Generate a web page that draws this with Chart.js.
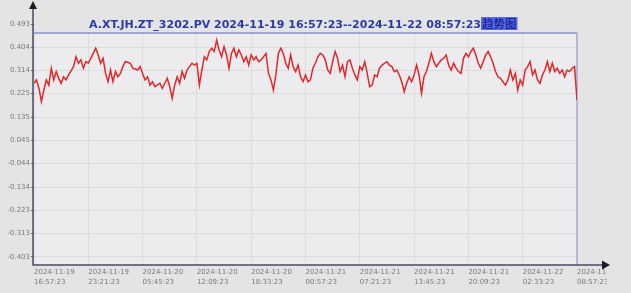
<!DOCTYPE html>
<html>
<head>
<meta charset="utf-8">
<script src="https://cdn.jsdelivr.net/npm/chart.js@4.4.1/dist/chart.umd.min.js"></script>
<style>
  html, body { margin: 0; padding: 0; background: #e4e4e4; }
  #wrap { width: 631px; height: 293px; }
</style>
</head>
<body>
<div id="wrap"><canvas id="trend" width="631" height="293"></canvas></div>
<script>
// ==============================
// Data
// ==============================
const titleText = 'A.XT.JH.ZT_3202.PV 2024-11-19 16:57:23--2024-11-22 08:57:23';
const titleSuffix = '趋势图';

const xTickLabels = [
    ['2024-11-19', '16:57:23'],
    ['2024-11-19', '23:21:23'],
    ['2024-11-20', '05:45:23'],
    ['2024-11-20', '12:09:23'],
    ['2024-11-20', '18:33:23'],
    ['2024-11-21', '00:57:23'],
    ['2024-11-21', '07:21:23'],
    ['2024-11-21', '13:45:23'],
    ['2024-11-21', '20:09:23'],
    ['2024-11-22', '02:33:23'],
    ['2024-11-22', '08:57:23']
];

const yTickValues = [0.493, 0.404, 0.314, 0.225, 0.135, 0.045, -0.044, -0.134, -0.223, -0.313, -0.403];
const yAxisMin = -0.434;

// PV samples, evenly spaced from the first to the last time label
const pvValues = [
    0.265,0.278,0.246,0.194,0.239,0.278,0.258,0.323,0.278,0.310,
    0.284,0.265,0.290,0.278,0.297,0.313,0.329,0.367,0.342,0.355,
    0.323,0.348,0.342,0.361,0.380,0.400,0.374,0.342,0.361,0.303,
    0.271,0.316,0.271,0.310,0.290,0.303,0.329,0.348,0.346,0.342,
    0.323,0.320,0.316,0.329,0.303,0.278,0.290,0.258,0.271,0.252,
    0.258,0.265,0.246,0.265,0.284,0.252,
    0.207,0.258,0.290,0.265,0.310,0.284,0.316,0.329,0.342,0.335,
    0.342,0.258,0.316,0.367,0.355,0.387,0.400,0.387,0.431,0.393,
    0.367,0.406,0.374,0.323,0.380,0.400,0.367,0.393,0.374,0.348,
    0.367,0.335,0.374,0.355,0.367,0.348,0.355,0.367,0.380,0.303,
    0.278,0.239,0.297,0.380,0.400,0.380,0.342,0.323,0.374,0.329,
    0.310,0.335,0.290,0.271,0.297,
    0.271,0.278,0.323,0.342,0.367,0.380,0.374,0.355,0.316,0.303,
    0.348,0.387,0.361,0.310,0.335,0.290,0.348,0.355,0.323,0.297,
    0.278,0.329,0.316,0.348,0.303,0.252,0.258,0.297,0.290,0.323,
    0.335,0.342,0.348,0.335,0.329,0.310,0.316,0.297,0.271,0.233,
    0.265,0.290,0.271,0.297,0.335,0.297,0.227,0.290,0.310,0.342,
    0.380,0.348,0.329,0.342,0.355,
    0.361,0.374,0.335,0.316,0.342,0.323,0.310,0.303,0.361,0.380,
    0.367,0.387,0.400,0.374,0.342,0.323,0.348,0.374,0.387,0.367,
    0.342,0.310,0.290,0.284,0.271,0.258,0.278,0.316,0.278,0.303,
    0.239,0.278,0.258,0.316,0.329,0.348,0.297,0.316,0.278,0.265,
    0.297,0.316,0.348,0.310,0.342,0.310,0.323,0.303,0.316,0.290,
    0.316,0.310,0.323,0.329,0.201
];

// ==============================
// Frame / axes / title plugin
// ==============================
const BG = '#e4e4e4';
const PLOT_BG = '#ececee';

const framePlugin = {
    id: 'frame',
    beforeDraw(chart) {
        const { ctx, chartArea: a } = chart;
        ctx.save();
        ctx.fillStyle = BG;
        ctx.fillRect(0, 0, chart.width, chart.height);
        ctx.fillStyle = PLOT_BG;
        ctx.fillRect(a.left, a.top + 9, a.right - a.left, a.bottom - a.top - 9);
        ctx.restore();
    },
    beforeDatasetsDraw(chart) {
        const { ctx, chartArea: a } = chart;
        const top = a.top + 9;
        ctx.save();
        // grid stops at the frame top
        ctx.fillStyle = BG;
        ctx.fillRect(a.left + 1, a.top - 2, a.right - a.left + 2, top - a.top + 1.5);
        ctx.strokeStyle = '#8a90cc';
        ctx.lineWidth = 1.5;
        ctx.beginPath();
        ctx.moveTo(a.left, top);
        ctx.lineTo(a.right, top);
        ctx.stroke();
        ctx.strokeStyle = '#a4a8d6';
        ctx.lineWidth = 1.5;
        ctx.beginPath();
        ctx.moveTo(a.right, top);
        ctx.lineTo(a.right, a.bottom);
        ctx.stroke();
        ctx.restore();
    },
    afterDraw(chart) {
        const { ctx, chartArea: a } = chart;
        ctx.save();
        // labels run off the panel edge
        ctx.fillStyle = BG;
        ctx.fillRect(607, a.bottom + 1, chart.width - 607, chart.height - a.bottom);

        // axes
        ctx.strokeStyle = '#4a4a66';
        ctx.lineWidth = 1.5;
        ctx.beginPath();
        ctx.moveTo(a.left - 1, 6);
        ctx.lineTo(a.left - 1, a.bottom);
        ctx.lineTo(604, a.bottom);
        ctx.stroke();

        ctx.fillStyle = '#1c1c24';
        ctx.beginPath();
        ctx.moveTo(a.left - 1, 1);
        ctx.lineTo(a.left - 5, 9);
        ctx.lineTo(a.left + 3, 9);
        ctx.closePath();
        ctx.fill();
        ctx.beginPath();
        ctx.moveTo(610, a.bottom);
        ctx.lineTo(602, a.bottom - 4.5);
        ctx.lineTo(602, a.bottom + 4.5);
        ctx.closePath();
        ctx.fill();

        // title
        ctx.font = 'bold 11px "DejaVu Sans"';
        ctx.textBaseline = 'alphabetic';
        ctx.fillStyle = '#2a3aa8';
        const x0 = 89;
        ctx.fillText(titleText, x0, 28);
        const w = ctx.measureText(titleText).width;
        ctx.font = 'bold 11.5px "Noto Sans CJK SC"';
        const w2 = ctx.measureText(titleSuffix).width;
        ctx.fillStyle = '#5c6ae0';
        ctx.fillRect(x0 + w, 17, w2 + 2, 13);
        ctx.fillStyle = '#1c2aa8';
        ctx.fillText(titleSuffix, x0 + w + 1, 28);
        ctx.restore();
    }
};

// ==============================
// Chart.js
// ==============================
function renderChart() {
    const ctx = document.getElementById('trend').getContext('2d');
    const lastTick = xTickLabels.length - 1;
    const points = pvValues.map((v, i) => ({ x: i * lastTick / (pvValues.length - 1), y: v }));

    new Chart(ctx, {
        type: 'line',
        data: {
            datasets: [{
                data: points,
                borderColor: '#e0282a',
                borderWidth: 1.5,
                pointRadius: 0,
                tension: 0,
                fill: false
            }]
        },
        options: {
            responsive: false,
            animation: false,
            layout: { padding: { top: 24, right: 54, left: 0, bottom: 0 } },
            plugins: { legend: { display: false }, tooltip: { enabled: false } },
            scales: {
                x: {
                    type: 'linear',
                    min: 0,
                    max: lastTick,
                    afterBuildTicks: s => { s.ticks = xTickLabels.map((_, i) => ({ value: i })); },
                    afterFit: s => { s.height = 28; },
                    border: { display: false },
                    grid: { color: '#dcdce1', drawTicks: false },
                    ticks: {
                        align: 'start',
                        padding: 2,
                        maxRotation: 0,
                        autoSkip: false,
                        color: '#7a7a7a',
                        font: { family: 'DejaVu Sans', size: 7, lineHeight: 1.45 },
                        callback: v => xTickLabels[v]
                    }
                },
                y: {
                    min: yAxisMin,
                    max: yTickValues[0],
                    afterBuildTicks: s => { s.ticks = yTickValues.map(v => ({ value: v })); },
                    afterFit: s => { s.width = 34; },
                    border: { display: false },
                    grid: {
                        color: c => (c.tick && c.tick.value === yTickValues[0]) ? 'rgba(0,0,0,0)' : '#dcdce1',
                        tickColor: '#666',
                        tickLength: 3
                    },
                    ticks: {
                        padding: 1,
                        color: '#7a7a7a',
                        font: { family: 'DejaVu Sans', size: 7 },
                        callback: v => v.toFixed(3)
                    }
                }
            }
        },
        plugins: [framePlugin]
    });
}

renderChart();
</script>
</body>
</html>
